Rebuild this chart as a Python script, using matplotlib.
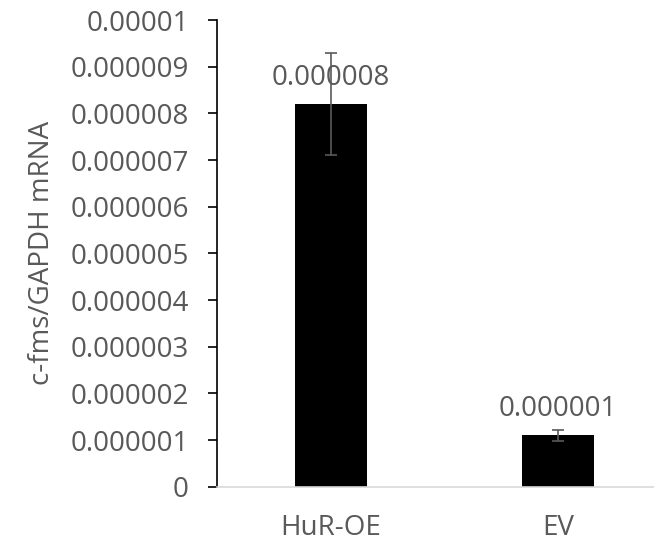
import matplotlib.pyplot as plt
import numpy as np

# data
categories = ["HuR-OE", "EV"]
values = [0.0000082, 0.0000011]
errors = [0.0000011, 0.00000011]
value_labels = ["0.000008", "0.000001"]
y_ticks = [i * 0.000001 for i in range(11)]
y_tick_labels = ["0", "0.000001", "0.000002", "0.000003", "0.000004", "0.000005",
                 "0.000006", "0.000007", "0.000008", "0.000009", "0.00001"]

plt.rcParams["font.family"] = ["Open Sans", "DejaVu Sans"]
text_color = "#595959"

fig = plt.figure(figsize=(6.54, 5.47), dpi=100)
ax = fig.add_axes([0.3323, 0.1102, 0.6942, 0.8532])

x = np.arange(len(categories))
ax.bar(x, values, width=0.32, color="black", zorder=2)
ax.errorbar(x, values, yerr=errors, fmt="none", ecolor=text_color,
            elinewidth=1.2, capsize=4.5, capthick=1.2, zorder=3)

for xi, v, lab in zip(x, values, value_labels):
    ax.annotate(lab, xy=(xi, v), xytext=(0, 14), textcoords="offset points",
                ha="center", va="baseline", fontsize=20, color=text_color)

ax.set_xlim(-0.5, 1.5)
ax.set_ylim(0, 0.00001)
ax.set_xticks(x)
ax.set_xticklabels(categories)
ax.set_yticks(y_ticks)
ax.set_yticklabels(y_tick_labels)

ax.tick_params(axis="x", length=0, pad=20, labelsize=20, labelcolor=text_color)
ax.tick_params(axis="y", length=6.5, width=1.2, direction="out", pad=14,
               labelsize=20, labelcolor=text_color)

ax.set_ylabel("c-fms/GAPDH mRNA", fontsize=20, color=text_color, labelpad=10)

for side in ["top", "right"]:
    ax.spines[side].set_visible(False)
ax.spines["left"].set_color("black")
ax.spines["left"].set_linewidth(1.2)
ax.spines["bottom"].set_color("#d9d9d9")
ax.spines["bottom"].set_linewidth(1.2)

fig.savefig("out.png", dpi=100)
